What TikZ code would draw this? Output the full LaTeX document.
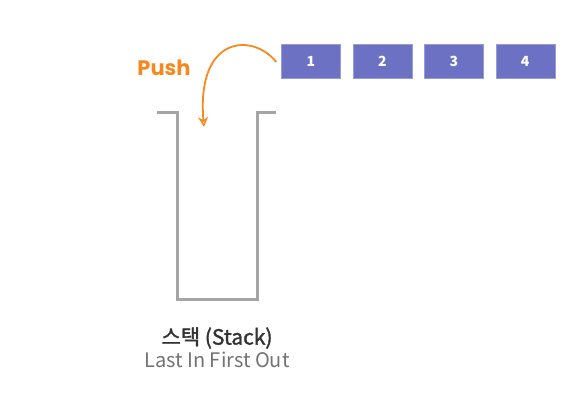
\documentclass[tikz,border=0pt]{standalone}
\usepackage{fontspec}
\setmainfont{Noto Sans CJK KR}
\newfontfamily\titlefont{Noto Sans CJK KR}[FakeBold=1.6]
\newfontfamily\pushfont{Poppins}
\usetikzlibrary{arrows,arrows.meta,positioning}
\definecolor{boxblue}{RGB}{108,113,196}
\definecolor{pushorange}{RGB}{245,137,31}
\definecolor{wallgray}{RGB}{165,165,165}
\tikzset{item/.style={fill=boxblue,draw=boxblue!70!white,minimum width=59pt,minimum height=34pt,inner sep=0pt,text=white,font=\bfseries\fontsize{14}{14}\selectfont}}

\begin{document}
\begin{tikzpicture}[x=1pt,y=-1pt]
\useasboundingbox (0,0) rectangle (582,406);
% \draw[help lines] (0,0) grid (582,406);
\node (b1) [item] at (311,61) {1};
\node (b2) [item,right=12pt of b1] {2};
\node (b3) [item,right=12pt of b2] {3};
\node (b4) [item,right=12pt of b3] {4};
%
\draw[wallgray,line width=3pt,line join=miter] (157,113) -- (177,113) -- (177,300) -- (257,300) -- (257,113) -- (276,113);
%
\coordinate (drop) at (204,127);
\draw[pushorange,line width=1.8pt,-{Stealth[open,length=10pt,width=10pt,line width=1.4pt]}] ([xshift=-5pt,yshift=-1pt]b1.west) .. controls (252,32) and (196,36) .. (drop);
\node (push) [text=pushorange,font=\pushfont\bfseries\fontsize{21}{21}\selectfont] at (164,68) {Push};
%
\node (title) [font=\titlefont\fontsize{21}{21}\selectfont,text=black!80,inner sep=1pt] at (217,338) {스택 (Stack)};
\node (lifo) [below=1pt of title,font=\fontsize{20}{20}\selectfont,text=black!55,inner sep=1pt] {Last In First Out};
\end{tikzpicture}
\end{document}
